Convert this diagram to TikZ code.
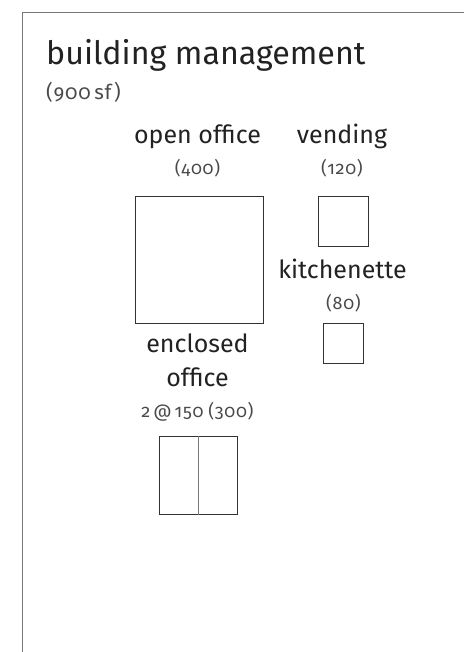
\documentclass[tikz,border=0pt]{standalone}
\usepackage{fontspec}
\setmainfont{Fira Sans}
\newfontfamily\lightfont[Numbers=OldStyle,LetterSpace=4]{Fira Sans}
\definecolor{ink}{HTML}{222222}
\definecolor{softink}{HTML}{4A4A4A}
\definecolor{framegray}{HTML}{777777}
\definecolor{boxline}{HTML}{333333}
\begin{document}
\begin{tikzpicture}[x=1pt,y=-1pt,
  title/.style={inner sep=0pt,anchor=base west,text=ink,font=\fontsize{32.2}{38}\selectfont},
  area/.style={inner sep=0pt,anchor=base west,text=softink,font=\lightfont\fontsize{20.5}{24}\selectfont},
  roomname/.style={inner sep=0pt,anchor=base,text=ink,font=\fontsize{25}{30}\selectfont},
  roomarea/.style={inner sep=0pt,anchor=base,text=softink,font=\lightfont\fontsize{18}{22}\selectfont},
  room/.style={draw=boxline,line width=1pt},
  divider/.style={draw=framegray,line width=0.9pt},
  frameline/.style={draw=framegray,line width=1.4pt}]
\useasboundingbox (0,0) rectangle (464,652);
% frame: top and left edges
\coordinate (fbl) at (22.5,652);
\coordinate (ftl) at (22.5,12.5);
\coordinate (ftr) at (464,12.5);
\draw[frameline] (fbl) -- (ftl) -- (ftr);
% heading
\node[title] (head) at (46,65) {building management};
\node[area] (total) at (46,100) {(900\,sf)};
% open office
\node[roomname] (ooname) at (197.5,144) {open office};
\node[roomarea] (ooarea) at (197.5,175) {(400)};
\node[room,minimum width=128pt,minimum height=127pt,inner sep=0pt,anchor=north west] (oo) at (134.5,196) {};
% vending
\node[roomname] (vname) at (342,144) {vending};
\node[roomarea] (varea) at (342,175) {(120)};
\node[room,minimum width=50pt,minimum height=49.5pt,inner sep=0pt,anchor=north west] (v) at (317.7,196) {};
% kitchenette
\node[roomname] (kname) at (342.5,278) {kitchenette};
\node[roomarea] (karea) at (343.5,309) {(80)};
\node[room,minimum width=40pt,minimum height=39.5pt,inner sep=0pt,anchor=north west] (k) at (322.8,323.3) {};
% enclosed offices
\node[roomname] (ename1) at (197.5,352) {enclosed};
\node[roomname] (ename2) at (197.5,386) {office};
\node[roomarea] (earea) at (197.5,417) {2\,@\,150\;(300)};
\node[room,minimum width=78pt,minimum height=77.7pt,inner sep=0pt,anchor=north west] (e) at (159.3,436.3) {};
\draw[divider] (e.north) -- (e.south);
\end{tikzpicture}
\end{document}
